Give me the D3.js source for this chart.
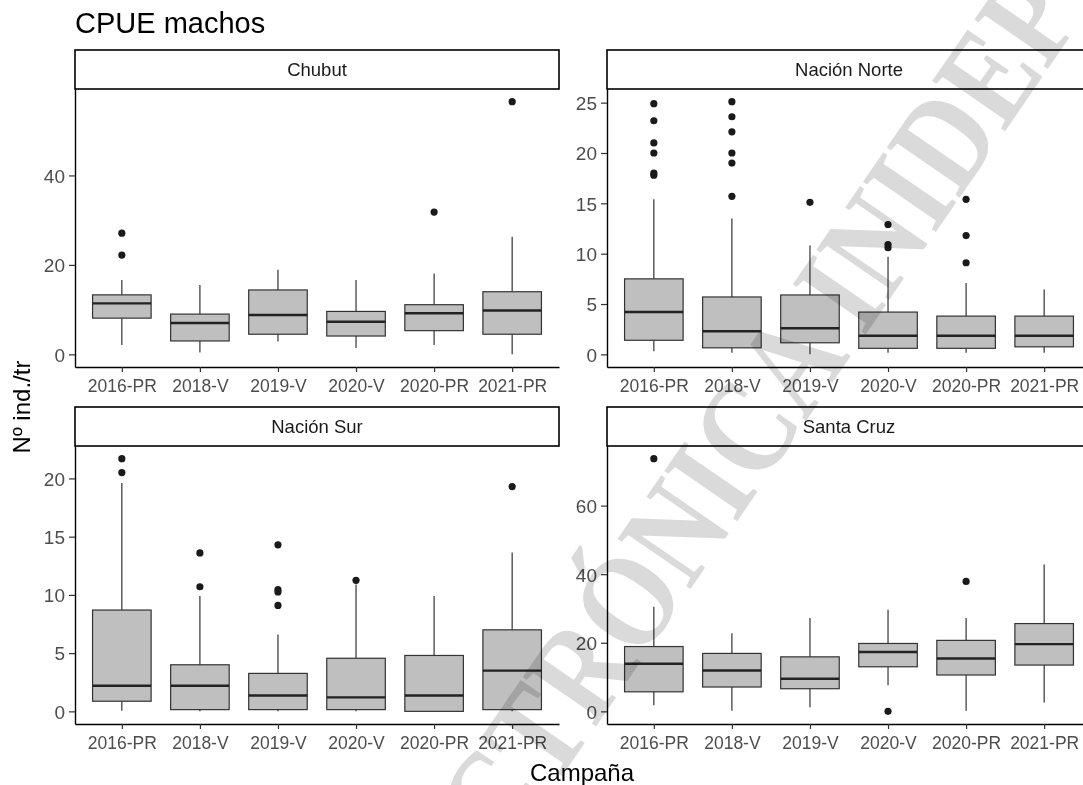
<!DOCTYPE html>
<html>
<head>
<meta charset="utf-8">
<script src="https://cdn.jsdelivr.net/npm/d3@7"></script>
<style>
  body { margin: 0; background: #fff; }
  text { font-family: "Liberation Sans", Arial, sans-serif; }
</style>
</head>
<body>
<svg id="chart"></svg>
<script>
const campaigns = ["2016-PR", "2018-V", "2019-V", "2020-V", "2020-PR", "2021-PR"];
const regions = ["Chubut", "Nación Norte", "Nación Sur", "Santa Cruz"];

// [lower whisker, Q1, median, Q3, upper whisker] per campaign
const chubutStats = [
  [2.1, 8.1, 11.4, 13.3, 16.6],
  [0.4, 3.0, 7.0, 9.0, 15.5],
  [2.9, 4.5, 8.8, 14.4, 18.9],
  [1.4, 4.1, 7.3, 9.6, 16.6],
  [2.1, 5.3, 9.2, 11.1, 18.1],
  [0, 4.5, 9.8, 14.0, 26.3]
];
const chubutOutliers = [[27.1, 22.2], [], [], [], [31.8], [56.5]];
const chubutTicks = [0, 20, 40];

const norteStats = [
  [0.3, 1.4, 4.2, 7.5, 15.4],
  [0.15, 0.65, 2.3, 5.7, 13.5],
  [0, 1.15, 2.6, 5.9, 10.8],
  [0.15, 0.6, 1.85, 4.2, 9.7],
  [0.15, 0.6, 1.85, 3.8, 7.1],
  [0.15, 0.75, 1.85, 3.8, 6.45]
];
const norteOutliers = [
  [24.9, 23.2, 21.0, 20.0, 18.0, 17.8],
  [25.1, 23.6, 22.1, 20.0, 19.0, 15.7],
  [15.1],
  [12.9, 10.9, 10.6],
  [15.4, 11.8, 9.1],
  []
];
const norteTicks = [0, 5, 10, 15, 20, 25];

const surStats = [
  [0.06, 0.87, 2.2, 8.7, 19.6],
  [0, 0.15, 2.2, 4.0, 9.9],
  [0, 0.15, 1.36, 3.26, 6.6],
  [0, 0.15, 1.2, 4.56, 10.9],
  [0, 0, 1.36, 4.8, 9.9],
  [0, 0.15, 3.5, 7.0, 13.65]
];
const surOutliers = [[21.7, 20.5], [13.6, 10.7], [14.3, 10.45, 10.25, 9.1], [11.25], [], [19.3]];
const surTicks = [0, 5, 10, 15, 20];

const santaCruzStats = [
  [1.8, 5.7, 13.9, 18.9, 30.5],
  [0.2, 7.1, 11.9, 16.9, 22.8],
  [1.2, 6.6, 9.5, 15.9, 27.2],
  [7.6, 13.0, 17.3, 19.8, 29.6],
  [0.2, 10.6, 15.4, 20.7, 27.2],
  [2.6, 13.5, 19.6, 25.6, 42.8]
];
const santaCruzOutliers = [[73.7], [], [], [0], [37.9], []];
const santaCruzTicks = [0, 20, 40, 60];

const width = 1083, height = 785;

const svg = d3.select("#chart")
  .attr("width", width)
  .attr("height", height);

svg.append("rect").attr("width", width).attr("height", height).attr("fill", "#fff");

// panel layout (facet_wrap 2x2)
const panelW = 484;
const stripH = 39;
const plotH = 278;
const cols = [75, 607];
const rows = [50, 407];

const panels = [
  { name: regions[0], stats: chubutStats, outliers: chubutOutliers, ticks: chubutTicks, col: 0, row: 0 },
  { name: regions[1], stats: norteStats, outliers: norteOutliers, ticks: norteTicks, col: 1, row: 0 },
  { name: regions[2], stats: surStats, outliers: surOutliers, ticks: surTicks, col: 0, row: 1 },
  { name: regions[3], stats: santaCruzStats, outliers: santaCruzOutliers, ticks: santaCruzTicks, col: 1, row: 1 }
];

panels.forEach(p => {
  const x0 = cols[p.col];
  const top = rows[p.row];
  const plotTop = top + stripH;
  const plotBottom = plotTop + plotH;

  const x = d3.scalePoint()
    .domain(campaigns)
    .range([x0, x0 + panelW])
    .padding(0.6);

  // y range like ggplot: data extent + 5% each side
  const allVals = p.stats.flat().concat(p.outliers.flat());
  const [lo, hi] = d3.extent(allVals);
  const pad = (hi - lo) * 0.05;
  const y = d3.scaleLinear()
    .domain([lo - pad, hi + pad])
    .range([plotBottom, plotTop]);

  const g = svg.append("g");
  const boxW = x.step() * 0.75;

  const rowsData = campaigns.map((c, i) => ({ c, s: p.stats[i], o: p.outliers[i] }));

  // whiskers
  g.selectAll("line.wlo")
    .data(rowsData)
    .enter()
    .append("line")
    .attr("x1", d => x(d.c)).attr("x2", d => x(d.c))
    .attr("y1", d => y(d.s[0])).attr("y2", d => y(d.s[1]))
    .attr("stroke", "#333").attr("stroke-width", 1.2);
  g.selectAll("line.whi")
    .data(rowsData)
    .enter()
    .append("line")
    .attr("x1", d => x(d.c)).attr("x2", d => x(d.c))
    .attr("y1", d => y(d.s[3])).attr("y2", d => y(d.s[4]))
    .attr("stroke", "#333").attr("stroke-width", 1.2);

  // boxes
  g.selectAll("rect.box")
    .data(rowsData)
    .enter()
    .append("rect")
    .attr("x", d => x(d.c) - boxW / 2)
    .attr("width", boxW)
    .attr("y", d => y(d.s[3]))
    .attr("height", d => y(d.s[1]) - y(d.s[3]))
    .attr("fill", "#bfbfbf")
    .attr("stroke", "#333")
    .attr("stroke-width", 1.2);

  // medians
  g.selectAll("line.med")
    .data(rowsData)
    .enter()
    .append("line")
    .attr("x1", d => x(d.c) - boxW / 2).attr("x2", d => x(d.c) + boxW / 2)
    .attr("y1", d => y(d.s[2])).attr("y2", d => y(d.s[2]))
    .attr("stroke", "#222").attr("stroke-width", 2.4);

  // outliers
  const pts = rowsData.flatMap(d => d.o.map(v => ({ c: d.c, v })));
  g.selectAll("circle")
    .data(pts)
    .enter()
    .append("circle")
    .attr("cx", d => x(d.c))
    .attr("cy", d => y(d.v))
    .attr("r", 3.6)
    .attr("fill", "#1a1a1a");

  // axes
  const yAxis = g.append("g")
    .attr("transform", `translate(${x0},0)`)
    .call(d3.axisLeft(y).tickValues(p.ticks).tickSize(6).tickPadding(4).tickSizeOuter(0));
  const xAxis = g.append("g")
    .attr("transform", `translate(0,${plotBottom})`)
    .call(d3.axisBottom(x).tickSize(5).tickPadding(8).tickSizeOuter(0));

  [yAxis, xAxis].forEach(a => {
    a.select(".domain").attr("stroke", "#000").attr("stroke-width", 1.4);
    a.selectAll(".tick line").attr("stroke", "#333").attr("stroke-width", 1.2);
    a.selectAll(".tick text").attr("fill", "#4d4d4d");
  });
  yAxis.selectAll(".tick text").style("font-size", "19px").attr("dy", "0.36em");
  xAxis.selectAll(".tick text").style("font-size", "17.5px");

  // strip
  g.append("rect")
    .attr("x", x0)
    .attr("y", top)
    .attr("width", panelW)
    .attr("height", stripH)
    .attr("fill", "#fff")
    .attr("stroke", "#000")
    .attr("stroke-width", 1.6);
  g.append("text")
    .attr("x", x0 + panelW / 2)
    .attr("y", top + stripH / 2)
    .attr("dy", "0.36em")
    .attr("text-anchor", "middle")
    .attr("fill", "#1a1a1a")
    .style("font-size", "18.5px")
    .text(p.name);
});

// titles
svg.append("text")
  .attr("x", 75)
  .attr("y", 33)
  .attr("fill", "#000")
  .style("font-size", "29px")
  .text("CPUE machos");

svg.append("text")
  .attr("x", 582)
  .attr("y", 781)
  .attr("text-anchor", "middle")
  .attr("fill", "#000")
  .style("font-size", "24px")
  .text("Campaña");

svg.append("text")
  .attr("transform", "translate(30,407) rotate(-90)")
  .attr("text-anchor", "middle")
  .attr("fill", "#000")
  .style("font-size", "24px")
  .text("Nº ind./tr");

// watermark
svg.append("text")
  .attr("transform", "translate(1085,15) rotate(-55.5)")
  .attr("text-anchor", "end")
  .attr("textLength", 1245)
  .attr("lengthAdjust", "spacingAndGlyphs")
  .attr("fill", "#dadada")
  .style("font-family", "'Liberation Serif', 'DejaVu Serif', serif")
  .style("font-weight", "bold")
  .style("font-size", "135px")
  .style("mix-blend-mode", "multiply")
  .text("ELECTRÓNICA INIDEP");
</script>
</body>
</html>
